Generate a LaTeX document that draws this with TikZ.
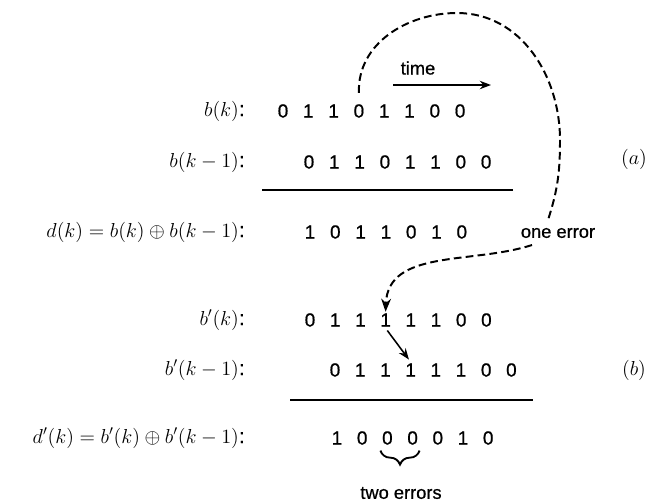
\documentclass[tikz,border=0pt]{standalone}
\usepackage{fontspec}
\setmainfont{Liberation Sans}[FakeBold=0.7]
\usetikzlibrary{arrows.meta,decorations.pathreplacing}
\tikzset{
    >=Stealth,
    bit/.style={font=\fontsize{13.5}{15}\selectfont, inner sep=1pt},
    lbl/.style={anchor=east, font=\fontsize{14.8}{16}\selectfont, inner sep=0pt},
    note/.style={font=\fontsize{13}{15}\selectfont, inner sep=1pt},
    link/.style={line width=1.4pt, dash pattern=on 5.5pt off 3pt},
    rule/.style={line width=1.2pt}
}

\begin{document}
\begin{tikzpicture}[x=0.025cm, y=0.025cm]
    \useasboundingbox (0,0) rectangle (646,-501);

    % (a) error free sequence
    \node[lbl] (lb)  at (245,-111) {$b(k)$:};
    \node[lbl] (lb1) at (245,-162) {$b(k-1)$:};
    \node[lbl] (ld)  at (245,-232) {$d(k) = b(k) \oplus b(k-1)$:};
    \foreach \d [count=\i] in {0,1,1,0,1,1,0,0}
        \node[bit] (b\i) at ({283+25.3*(\i-1)},-111) {\d};
    \foreach \d [count=\i] in {0,1,1,0,1,1,0,0}
        \node[bit] (c\i) at ({309+25.3*(\i-1)},-162) {\d};
    \foreach \d [count=\i] in {1,0,1,1,0,1,0}
        \node[bit] (d\i) at ({310+25.3*(\i-1)},-232) {\d};
    \draw[rule] (262,-190) -- (513,-190);
    \node[lbl, anchor=center] (parta) at (634,-159) {$(a)$};

    \node[note] (time) at (418,-68) {time};
    \coordinate (t0) at (393,-85);
    \coordinate (t1) at (491,-85);
    \draw[->, line width=1.1pt] (t0) -- (t1);

    \node[note] (err) at (558,-233) {one error};
    \coordinate (top)  at (457,-13);
    \coordinate (side) at (560,-140);
    \coordinate (e1)   at (548,-220);
    \coordinate (e2)   at (532,-245);

    % (b) sequence with one error
    \node[lbl] (lbp)  at (245,-320) {$b'(k)$:};
    \node[lbl] (lbp1) at (245,-370) {$b'(k-1)$:};
    \node[lbl] (ldp)  at (245,-438) {$d'(k) = b'(k) \oplus b'(k-1)$:};
    \foreach \d [count=\i] in {0,1,1,1,1,1,0,0}
        \node[bit] (bp\i) at ({310+25.2*(\i-1)},-320) {\d};
    \foreach \d [count=\i] in {0,1,1,1,1,1,0,0}
        \node[bit] (bq\i) at ({335+25.2*(\i-1)},-370) {\d};
    \foreach \d [count=\i] in {1,0,0,0,0,1,0}
        \node[bit] (dp\i) at ({337+25.2*(\i-1)},-438) {\d};
    \draw[rule] (290,-400) -- (533,-400);
    \node[lbl, anchor=center] (partb) at (634,-370) {$(b)$};

    \draw[link] ([yshift=7pt]b4.north) to[out=92,in=180] (top)
        to[out=0,in=90] (side) to[out=-90,in=72] (e1);
    \draw[link, ->] (e2) to[out=198,in=88] (bp4.north);
    \draw[->, line width=1.1pt, shorten <=2pt, shorten >=2pt] (bp4.south) -- (bq4.north);

    \draw[line width=1.3pt, decorate, decoration={brace, mirror, amplitude=10pt}]
        ([yshift=-3pt]dp3.south west) -- ([yshift=-3pt]dp4.south east);
    \node[note] (two) at (401,-493) {two errors};
\end{tikzpicture}
\end{document}
